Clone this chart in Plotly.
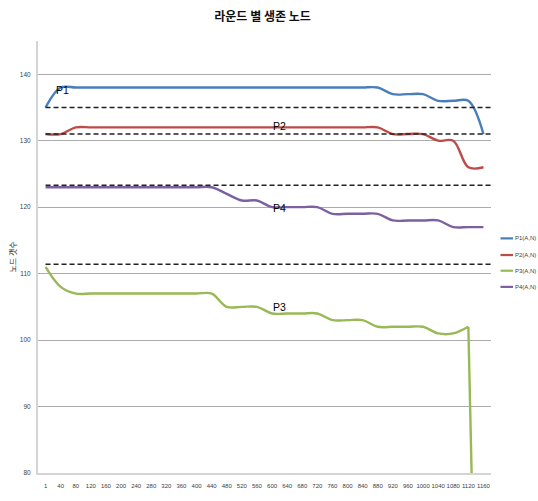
import plotly.graph_objects as go

# ---------------- data ----------------
rounds = ["1", "40", "80", "120", "160", "200", "240", "280", "320", "360",
          "400", "440", "480", "520", "560", "600", "640", "680", "720", "760",
          "800", "840", "880", "920", "960", "1000", "1040", "1080", "1120", "1160"]

p1 = [135, 138, 138, 138, 138, 138, 138, 138, 138, 138,
      138, 138, 138, 138, 138, 138, 138, 138, 138, 138,
      138, 138, 138, 137, 137, 137, 136, 136, 136, 131]
p2 = [131, 131, 132, 132, 132, 132, 132, 132, 132, 132,
      132, 132, 132, 132, 132, 132, 132, 132, 132, 132,
      132, 132, 132, 131, 131, 131, 130, 130, 126, 126]
p3 = [111, 108, 107, 107, 107, 107, 107, 107, 107, 107,
      107, 107, 105, 105, 105, 104, 104, 104, 104, 103,
      103, 103, 102, 102, 102, 102, 101, 101, 102, 0]
p4 = [123, 123, 123, 123, 123, 123, 123, 123, 123, 123,
      123, 123, 122, 121, 121, 120, 120, 120, 120, 119,
      119, 119, 119, 118, 118, 118, 118, 117, 117, 117]

series_names = ["P1(A,N)", "P2(A,N)", "P3(A,N)", "P4(A,N)"]
series_values = [p1, p2, p3, p4]
series_colors = ["#4A7EBB", "#BE4B48", "#98B954", "#7D60A0"]

reference_lines = [135, 131, 123.3, 111.4]

label_texts = ["P1", "P2", "P4", "P3"]
label_x = [1.15, 15.5, 15.5, 15.5]
label_y = [137.7, 132.2, 119.9, 105.0]

title_text = "라운드 별 생존 노드"
y_title = "노드 갯수"

# ---------------- layout geometry ----------------
W, H = 538, 501
ML, MR, MT, MB = 38, 47, 41, 19
PW, PH = W - ML - MR, H - MT - MB
SMALL_FONT = "Liberation Sans, Arial"


def px_to_paper(px, py):
    return (px - ML) / PW, (H - MB - py) / PH


fig = go.Figure()

for name, vals, col in zip(series_names, series_values, series_colors):
    if name.startswith("P3"):
        fig.add_trace(go.Scatter(x=rounds[:29], y=vals[:29], mode="lines", name=name,
                                 line=dict(color=col, width=2.4, shape="spline", smoothing=1),
                                 showlegend=False))
        fig.add_trace(go.Scatter(x=rounds[28:], y=vals[28:], mode="lines", name=name,
                                 line=dict(color=col, width=2.4), showlegend=False))
    else:
        fig.add_trace(go.Scatter(x=rounds, y=vals, mode="lines", name=name,
                                 line=dict(color=col, width=2.4, shape="spline", smoothing=1),
                                 showlegend=False))

shapes = []
for v in reference_lines:
    shapes.append(dict(type="line", xref="x", yref="y", x0=0, x1=29.5, y0=v, y1=v,
                       line=dict(color="#222222", width=1.4, dash="5px,3px")))

annotations = []
for t, x, y in zip(label_texts, label_x, label_y):
    annotations.append(dict(x=x, y=y, xref="x", yref="y", text=t, showarrow=False,
                            font=dict(family=SMALL_FONT, size=10.5, color="#000000")))

# custom legend
leg_y = [242.5, 259.5, 275.5, 292]
for name, col, ly in zip(series_names, series_colors, leg_y):
    x0, y0 = px_to_paper(500.5, ly)
    x1, _ = px_to_paper(513, ly)
    shapes.append(dict(type="line", xref="paper", yref="paper", x0=x0, x1=x1, y0=y0, y1=y0,
                       line=dict(color=col, width=2.2)))
    tx, _ = px_to_paper(513, ly)
    annotations.append(dict(x=tx, y=y0, xref="paper", yref="paper", text=name,
                            showarrow=False, xanchor="left", yanchor="middle",
                            font=dict(family=SMALL_FONT, size=6, color="#404040")))

fig.update_layout(
    width=W, height=H,
    margin=dict(l=ML, r=MR, t=MT, b=MB),
    paper_bgcolor="white", plot_bgcolor="white",
    title=dict(text="<b>" + title_text + "</b>", x=0.488, xanchor="center",
               y=1 - 17 / H, yanchor="middle", yref="container",
               font=dict(family="Noto Sans CJK KR", size=12, color="#111111")),
    showlegend=False,
    shapes=shapes,
    annotations=annotations,
    xaxis=dict(type="category", range=[-0.5, 29.5], showgrid=False, zeroline=False,
               showline=True, linecolor="#D4D4D4", linewidth=2, ticks="",
               tickangle=0, ticklabelstandoff=6,
               tickfont=dict(family=SMALL_FONT, size=6, color="#404040")),
    yaxis=dict(range=[80, 145], tickvals=[80, 90, 100, 110, 120, 130, 140],
               showgrid=True, gridcolor="#ABABAB", gridwidth=1, zeroline=False,
               showline=True, linecolor="#D4D4D4", linewidth=2, ticks="",
               ticklabelstandoff=4,
               tickfont=dict(family=SMALL_FONT, size=6.5, color="#404040"),
               title=dict(text=y_title, standoff=2,
                          font=dict(family="Noto Sans CJK KR", size=8, color="#3a2a1a"))),
)

fig.write_html("out.html")
